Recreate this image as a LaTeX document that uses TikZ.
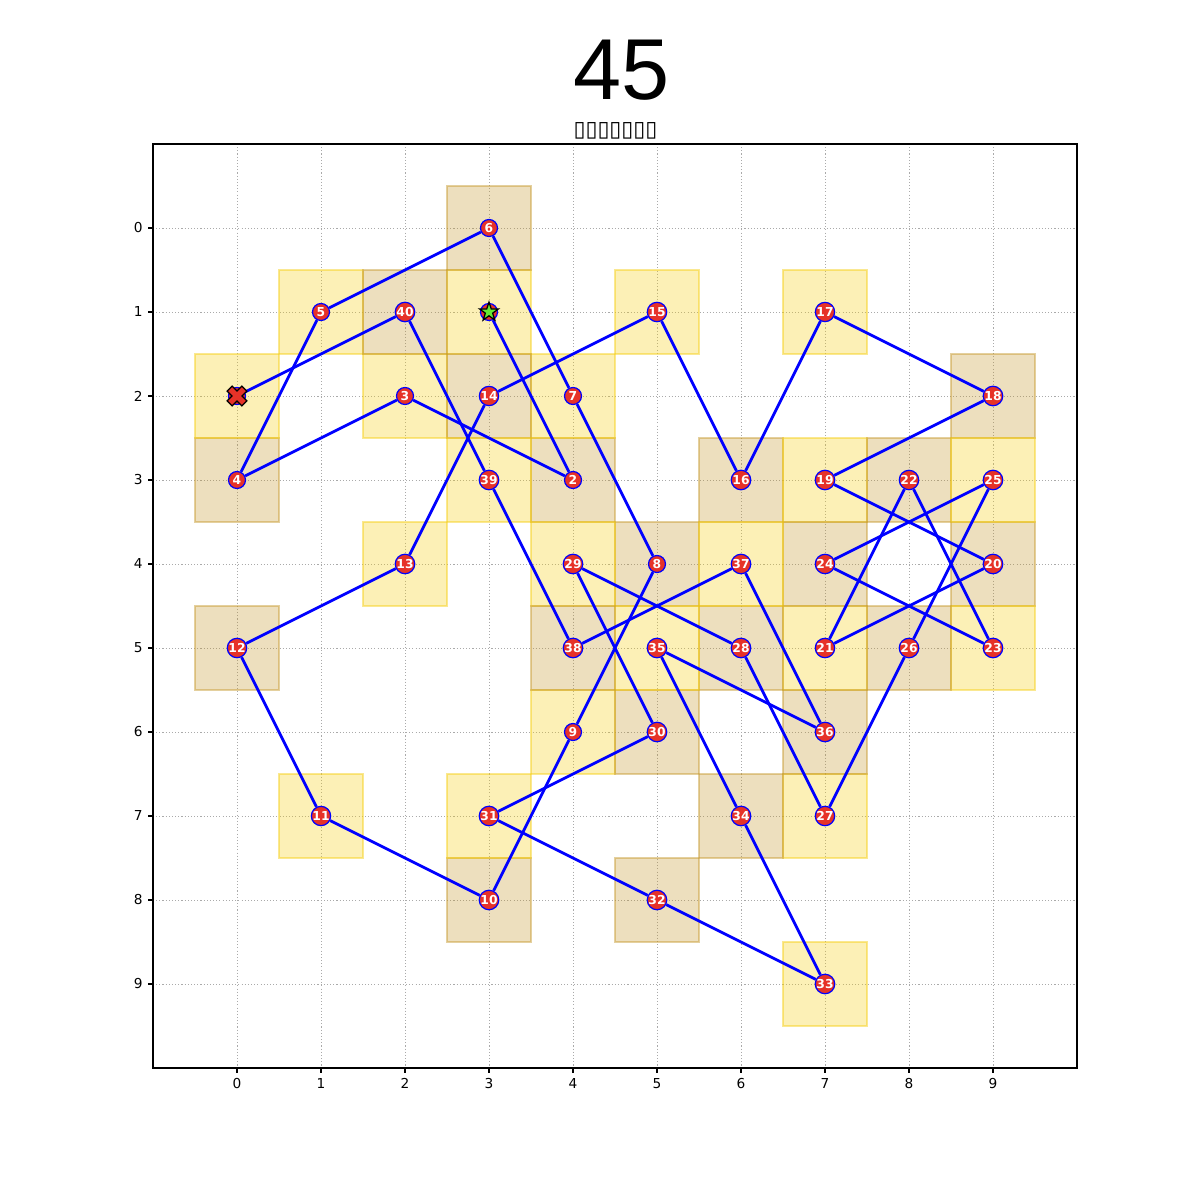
\documentclass[tikz,border=0pt]{standalone}
\usepackage{fontspec}
\setmainfont{DejaVu Sans}
\newfontfamily\titlefont{Liberation Sans}
\usetikzlibrary{shapes.geometric}
\definecolor{nodered}{RGB}{230,50,40}
\definecolor{lineblue}{RGB}{0,0,255}
\definecolor{cellyel}{RGB}{245,205,12}
\definecolor{celltan}{RGB}{196,150,40}
\definecolor{gridgray}{RGB}{170,170,170}
\definecolor{starlime}{RGB}{100,235,50}
\pgfdeclarelayer{gridlayer}
\pgfdeclarelayer{celllayer}
\pgfdeclarelayer{edgelayer}
\pgfsetlayers{gridlayer,celllayer,edgelayer,main}
\begin{document}
\begin{tikzpicture}[
  pt/.style={circle, fill=nodered, draw=lineblue, line width=0.35pt, minimum size=0.17cm, inner sep=0pt, text=white, font=\fontsize{3.5}{4}\selectfont\bfseries},
  tour/.style={draw=lineblue, line width=0.8pt},
  gridline/.style={draw=gridgray, line width=0.22pt, dash pattern=on 0.3pt off 0.6pt},
  cellbox/.style={fill=#1, fill opacity=0.3, draw=#1, draw opacity=0.45, line width=0.4pt},
  ticklabel/.style={inner sep=0pt, font=\fontsize{3.9}{4.6}\selectfont},
  tickmark/.style={draw=black, line width=0.3pt}
]
\useasboundingbox (0,0) rectangle (12,12);
\node[anchor=base, font=\titlefont\fontsize{24.6}{29}\selectfont] (title) at (6.215,11.0) {45};
\node[anchor=base, font=\fontsize{6.2}{7.4}\selectfont] (sub) at (6.155,10.63) {▯▯▯▯▯▯▯};
\begin{scope}[shift={(2.37,9.72)}, x=0.84cm, y=-0.84cm]
  \begin{pgfonlayer}{gridlayer}
    \foreach \t in {0,...,9} {
      \draw[gridline] (\t,-1) -- (\t,10);
      \draw[gridline] (-1,\t) -- (10,\t);
    }
  \end{pgfonlayer}
  \foreach \i/\x/\y in {1/3/1,2/4/3,3/2/2,4/0/3,5/1/1,6/3/0,7/4/2,8/5/4,9/4/6,10/3/8,
      11/1/7,12/0/5,13/2/4,14/3/2,15/5/1,16/6/3,17/7/1,18/9/2,19/7/3,20/9/4,
      21/7/5,22/8/3,23/9/5,24/7/4,25/9/3,26/8/5,27/7/7,28/6/5,29/4/4,30/5/6,
      31/3/7,32/5/8,33/7/9,34/6/7,35/5/5,36/7/6,37/6/4,38/4/5,39/3/3,40/2/1,41/0/2} {
    \begin{pgfonlayer}{celllayer}
      \ifodd\i\relax
        \draw[cellbox=cellyel] (\x-0.5,\y-0.5) rectangle (\x+0.5,\y+0.5);
      \else
        \draw[cellbox=celltan] (\x-0.5,\y-0.5) rectangle (\x+0.5,\y+0.5);
      \fi
    \end{pgfonlayer}
    \ifnum\i=1\relax
      \node[pt] (n\i) at (\x,\y) {};
    \else\ifnum\i=41\relax
      \node[pt] (n\i) at (\x,\y) {};
    \else
      \node[pt] (n\i) at (\x,\y) {\i};
    \fi\fi
  }
  \begin{pgfonlayer}{edgelayer}
    \foreach \a [remember=\a as \b (initially 1)] in {2,...,41} {
      \draw[tour] (n\b) -- (n\a);
    }
  \end{pgfonlayer}
  \node[star, star points=5, star point ratio=2.618, minimum size=0.2cm, inner sep=0pt, fill=starlime, draw=black, line width=0.35pt] (startmark) at (n1) {};
  \filldraw[fill=nodered, draw=black, line width=0.35pt, shift={(n41)}, rotate=45]
    (-0.035cm,-0.105cm) -- (0.035cm,-0.105cm) -- (0.035cm,-0.035cm) -- (0.105cm,-0.035cm) --
    (0.105cm,0.035cm) -- (0.035cm,0.035cm) -- (0.035cm,0.105cm) -- (-0.035cm,0.105cm) --
    (-0.035cm,0.035cm) -- (-0.105cm,0.035cm) -- (-0.105cm,-0.035cm) -- (-0.035cm,-0.035cm) -- cycle;
  \draw[line width=0.3pt] (-1,-1) rectangle (10,10);
  \foreach \t in {0,...,9} {
    \draw[tickmark] (\t,10) -- ++(0,-0.05cm) node[ticklabel, anchor=north, yshift=-0.05cm] (xl\t) {\t};
    \draw[tickmark] (-1,\t) -- ++(-0.05cm,0) node[ticklabel, anchor=east, xshift=-0.05cm] (yl\t) {\t};
  }
\end{scope}
\end{tikzpicture}
\end{document}
